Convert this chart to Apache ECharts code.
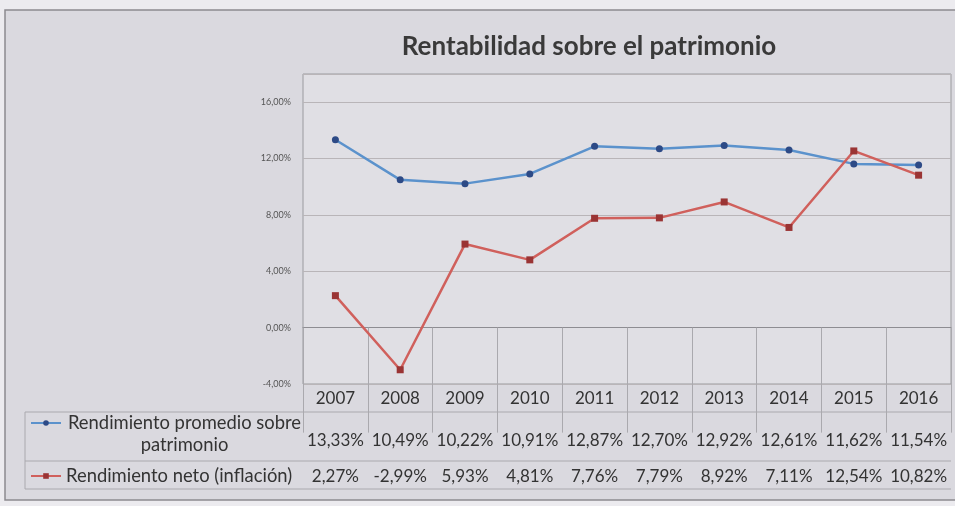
<!DOCTYPE html>
<html>
<head>
<meta charset="utf-8">
<script src="https://cdn.jsdelivr.net/npm/echarts@6/dist/echarts.min.js"></script>
<style>
  html, body { margin: 0; padding: 0; }
  #chart { width: 955px; height: 506px; }
</style>
</head>
<body>
<div id="chart"></div>
<script>
var years = ['2007', '2008', '2009', '2010', '2011', '2012', '2013', '2014', '2015', '2016'];
var rendimientoPromedio = [13.33, 10.49, 10.22, 10.91, 12.87, 12.70, 12.92, 12.61, 11.62, 11.54];
var rendimientoNeto = [2.27, -2.99, 5.93, 4.81, 7.76, 7.79, 8.92, 7.11, 12.54, 10.82];
var nombre1 = 'Rendimiento promedio sobre patrimonio';
var nombre2 = 'Rendimiento neto (inflación)';

var myChart = echarts.init(document.getElementById('chart'));

function pct(v) {
    return v.toFixed(2).replace('.', ',') + '%';
}

var tableFont = 'Lato, "Open Sans", sans-serif';

var option = {
    backgroundColor: '#ecebef',
    animation: false,
    title: {
        text: 'Rentabilidad sobre el patrimonio',
        left: 584,
        textAlign: 'center',
        top: 29,
        textStyle: { fontFamily: tableFont, fontSize: 26, fontWeight: 'bold', color: '#3a3a3a' }
    },
    legend: [
        {
            // linea vacia arriba para que el icono quede a la altura de la primera linea
            data: [nombre1],
            left: 25,
            top: 387,
            itemWidth: 30,
            itemHeight: 7,
            selectedMode: false,
            formatter: function () { return '{a| }\n{a|Rendimiento promedio sobre}\n{a|patrimonio}'; },
            textStyle: {
                fontFamily: tableFont, fontSize: 18.4, color: '#333',
                rich: { a: { width: 237, align: 'center', fontFamily: tableFont, fontSize: 18.4, lineHeight: 22, color: '#333' } }
            }
        },
        {
            data: [nombre2],
            left: 25,
            top: 462,
            itemWidth: 30,
            itemHeight: 7,
            selectedMode: false,
            textStyle: { fontFamily: tableFont, fontSize: 18.4, color: '#333' }
        }
    ],
    grid: {
        left: 303, right: 4, top: 74, bottom: 122,
        show: true,
        backgroundColor: '#e0dfe4',
        borderColor: '#9a9a9e',
        borderWidth: 1
    },
    graphic: [
        {
            type: 'rect', z: -10, silent: true,
            shape: { x: 5, y: 10, width: 965, height: 490 },
            style: { fill: '#dad9df', stroke: '#8c8b90', lineWidth: 1.5 }
        },
        {
            type: 'polyline', silent: true,
            shape: { points: [[25, 412], [951, 412]] },
            style: { stroke: '#aaa9ae', lineWidth: 1 }
        },
        {
            type: 'polyline', silent: true,
            shape: { points: [[25, 461], [951, 461]] },
            style: { stroke: '#aaa9ae', lineWidth: 1 }
        },
        {
            type: 'polyline', silent: true,
            shape: { points: [[25, 412], [25, 489], [951, 489]] },
            style: { stroke: '#aaa9ae', lineWidth: 1, fill: null }
        }
    ],
    xAxis: [
        {
            type: 'category',
            data: years,
            boundaryGap: true,
            axisLine: { lineStyle: { color: '#8e8d92' } },
            axisTick: { show: true, interval: 0, length: 105, lineStyle: { color: '#aaa9ae' } },
            axisLabel: { margin: 6, interval: 0, fontFamily: tableFont, fontSize: 17, color: '#333' }
        },
        {
            type: 'category',
            data: years,
            position: 'bottom',
            axisLine: { show: false },
            axisTick: { show: false },
            axisLabel: {
                margin: 48, interval: 0, fontFamily: tableFont, fontSize: 17, color: '#333',
                formatter: function (v, i) { return pct(rendimientoPromedio[i]); }
            }
        },
        {
            type: 'category',
            data: years,
            position: 'bottom',
            axisLine: { show: false },
            axisTick: { show: false },
            axisLabel: {
                margin: 84, interval: 0, fontFamily: tableFont, fontSize: 17, color: '#333',
                formatter: function (v, i) { return pct(rendimientoNeto[i]); }
            }
        }
    ],
    yAxis: {
        type: 'value',
        min: -4,
        max: 18,
        interval: 4,
        axisLine: { show: false },
        axisTick: { show: false },
        axisLabel: {
            margin: 12,
            fontFamily: tableFont, fontSize: 9, color: '#555',
            formatter: function (v) { return v > 16 ? '' : v.toFixed(2).replace('.', ',') + '%'; }
        },
        splitLine: { lineStyle: { color: '#b9b5b8', width: 1.2 } }
    },
    series: [
        {
            name: nombre1,
            type: 'line',
            data: rendimientoPromedio,
            symbol: 'circle',
            symbolSize: 7,
            lineStyle: { color: '#5b92cc', width: 2.5 },
            itemStyle: { color: '#2d4a86' }
        },
        {
            name: nombre2,
            type: 'line',
            data: rendimientoNeto,
            symbol: 'rect',
            symbolSize: 7,
            lineStyle: { color: '#d0605c', width: 2.5 },
            itemStyle: { color: '#9a3434' }
        }
    ]
};

myChart.setOption(option);
</script>
</body>
</html>
